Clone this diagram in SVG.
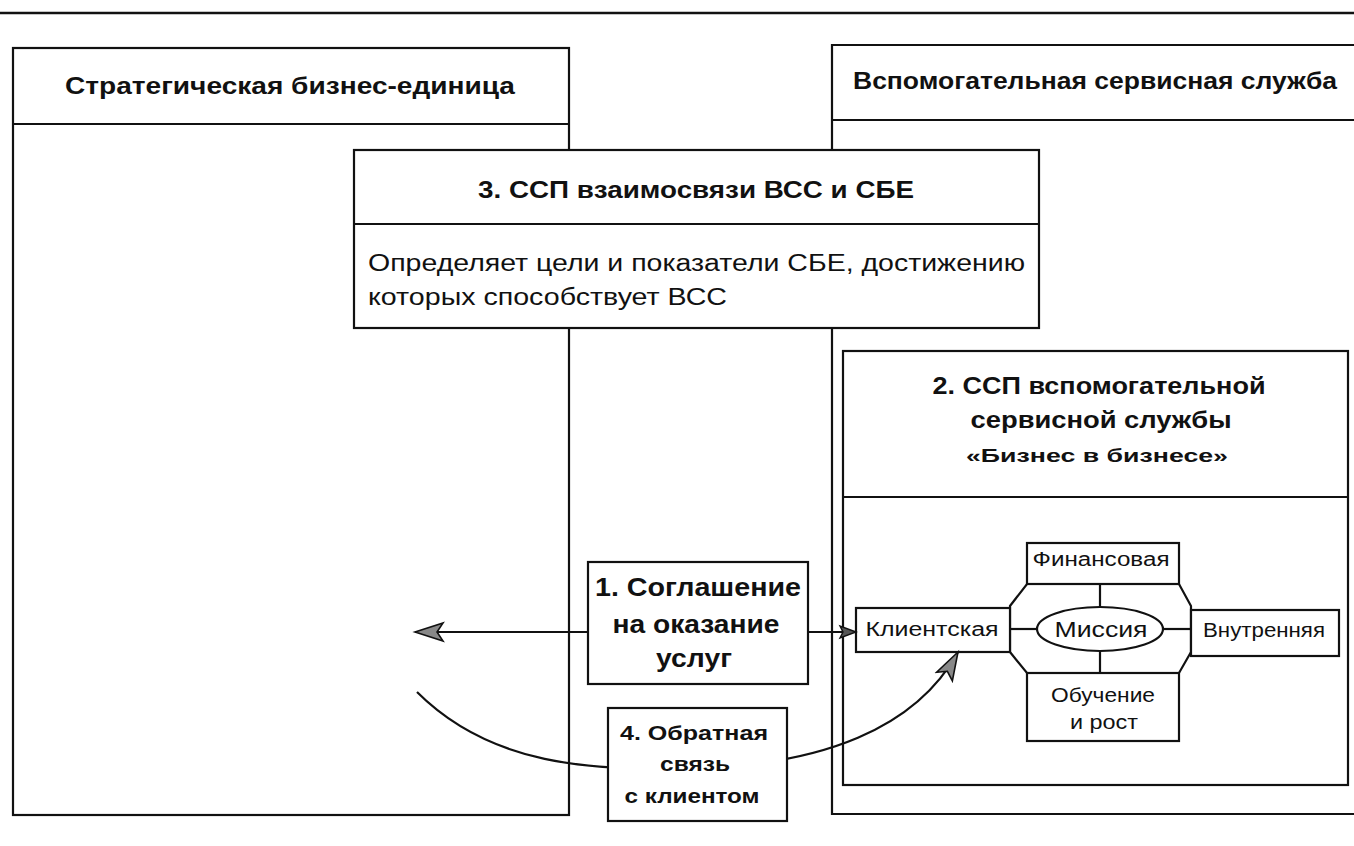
<svg xmlns="http://www.w3.org/2000/svg" width="1354" height="846" viewBox="0 0 1354 846">
<style>
.box{fill:#fff;stroke:#111;stroke-width:2.2}
.ln{fill:none;stroke:#111;stroke-width:2.2}
.hb{font-family:"Liberation Sans",Arial,sans-serif;font-weight:bold;fill:#111}
.rg{font-family:"Liberation Sans",Arial,sans-serif;fill:#111}
</style>
<defs>
<marker id="ah" markerUnits="userSpaceOnUse" markerWidth="34" markerHeight="22" refX="30" refY="11" orient="auto">
<path d="M30,11 L2,2 L8,11 L2,20 Z" fill="#888" stroke="#111" stroke-width="1.6"/>
</marker>
<marker id="ahs" markerUnits="userSpaceOnUse" markerWidth="20" markerHeight="16" refX="18" refY="8" orient="auto">
<path d="M18,8 L2,2 L5,8 L2,14 Z" fill="#555" stroke="#111" stroke-width="1.4"/>
</marker>
</defs>
<rect width="1354" height="846" fill="#fff"/>
<line x1="0" y1="13" x2="1354" y2="13" stroke="#111" stroke-width="2.6"/>

<g id="sbe">
<rect class="box" x="13" y="48" width="556" height="767"/>
<line class="ln" x1="13" y1="124" x2="569" y2="124"/>
<text class="hb" x="290" y="94" font-size="24" text-anchor="middle" textLength="450" lengthAdjust="spacingAndGlyphs">Стратегическая бизнес-единица</text>
</g>

<g id="vss">
<path class="ln" d="M1360,45 L832,45 L832,814 L1360,814"/>
<line class="ln" x1="832" y1="120" x2="1360" y2="120"/>
<text class="hb" x="1095" y="89" font-size="24" text-anchor="middle" textLength="484" lengthAdjust="spacingAndGlyphs">Вспомогательная сервисная служба</text>
</g>

<g id="node3">
<rect class="box" x="354" y="150" width="685" height="178"/>
<line class="ln" x1="354" y1="224" x2="1039" y2="224"/>
<text class="hb" x="696" y="198" font-size="24" text-anchor="middle" textLength="436" lengthAdjust="spacingAndGlyphs">3. ССП взаимосвязи ВСС и СБЕ</text>
<text class="rg" x="368" y="271" font-size="23" textLength="657" lengthAdjust="spacingAndGlyphs">Определяет цели и показатели СБЕ, достижению</text>
<text class="rg" x="368" y="305" font-size="23" textLength="359" lengthAdjust="spacingAndGlyphs">которых способствует ВСС</text>
</g>

<g id="node2">
<rect class="box" x="843" y="351" width="505" height="434"/>
<line class="ln" x1="843" y1="497" x2="1348" y2="497"/>
<text class="hb" x="1099" y="394" font-size="23" text-anchor="middle" textLength="333" lengthAdjust="spacingAndGlyphs">2. ССП вспомогательной</text>
<text class="hb" x="1101" y="428" font-size="23" text-anchor="middle" textLength="261" lengthAdjust="spacingAndGlyphs">сервисной службы</text>
<text class="hb" x="1097" y="462" font-size="19" text-anchor="middle" textLength="262" lengthAdjust="spacingAndGlyphs">«Бизнес в бизнесе»</text>
</g>

<g id="bsc">
<path class="ln" d="M1027,584 L1179,584 L1191,606 L1191,652 L1179,673 L1027,673 L1010,652 L1010,606 Z"/>
<line class="ln" x1="1100" y1="584" x2="1100" y2="607"/>
<line class="ln" x1="1100" y1="651" x2="1100" y2="673"/>
<line class="ln" x1="1010" y1="629" x2="1037" y2="629"/>
<line class="ln" x1="1163" y1="629" x2="1191" y2="629"/>
</g>
<g id="fin">
<rect class="box" x="1027" y="543" width="152" height="41"/>
<text class="rg" x="1101" y="566" font-size="20" text-anchor="middle" textLength="137" lengthAdjust="spacingAndGlyphs">Финансовая</text>
</g>
<g id="client">
<rect class="box" x="856" y="608" width="154" height="44"/>
<text class="rg" x="932" y="636" font-size="20" text-anchor="middle" textLength="133" lengthAdjust="spacingAndGlyphs">Клиентская</text>
</g>
<g id="mission">
<ellipse class="box" cx="1100" cy="629" rx="63" ry="22"/>
<text class="rg" x="1101" y="637" font-size="22" text-anchor="middle" textLength="93" lengthAdjust="spacingAndGlyphs">Миссия</text>
</g>
<g id="internal">
<rect class="box" x="1191" y="610" width="148" height="46"/>
<text class="rg" x="1264" y="637" font-size="20" text-anchor="middle" textLength="122" lengthAdjust="spacingAndGlyphs">Внутренняя</text>
</g>
<g id="learn">
<rect class="box" x="1027" y="673" width="152" height="68"/>
<text class="rg" x="1103" y="702" font-size="20" text-anchor="middle" textLength="104" lengthAdjust="spacingAndGlyphs">Обучение</text>
<text class="rg" x="1104" y="729" font-size="20" text-anchor="middle" textLength="68" lengthAdjust="spacingAndGlyphs">и рост</text>
</g>

<g id="connectors">
<line class="ln" x1="588" y1="632" x2="415" y2="632" marker-end="url(#ah)"/>
<line class="ln" x1="808" y1="632" x2="856" y2="632" marker-end="url(#ahs)"/>
<path class="ln" d="M417,692 C490,765 590,772 700,768 C820,764 915,730 958,652" marker-end="url(#ah)"/>
</g>

<g id="node1">
<rect class="box" x="588" y="562" width="220" height="122"/>
<text class="hb" x="698" y="596" font-size="25" text-anchor="middle" textLength="206" lengthAdjust="spacingAndGlyphs">1. Соглашение</text>
<text class="hb" x="696" y="633" font-size="25" text-anchor="middle" textLength="167" lengthAdjust="spacingAndGlyphs">на оказание</text>
<text class="hb" x="694" y="667" font-size="25" text-anchor="middle" textLength="76" lengthAdjust="spacingAndGlyphs">услуг</text>
</g>

<g id="node4">
<rect class="box" x="608" y="708" width="179" height="113"/>
<text class="hb" x="694" y="740" font-size="21" text-anchor="middle" textLength="148" lengthAdjust="spacingAndGlyphs">4. Обратная</text>
<text class="hb" x="695" y="771" font-size="21" text-anchor="middle" textLength="70" lengthAdjust="spacingAndGlyphs">связь</text>
<text class="hb" x="692" y="803" font-size="21" text-anchor="middle" textLength="135" lengthAdjust="spacingAndGlyphs">с клиентом</text>
</g>
</svg>
